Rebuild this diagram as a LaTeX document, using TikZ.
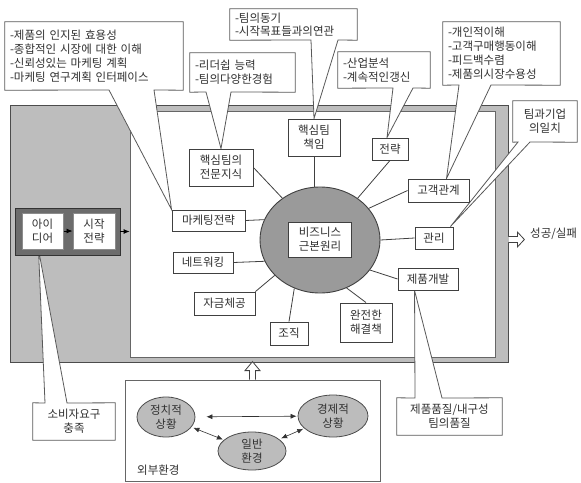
\documentclass[tikz,border=0pt]{standalone}
\usepackage{fontspec}
\setmainfont[WordSpace=1.8]{Noto Sans CJK KR}
\usetikzlibrary{arrows.meta,calc,shapes.geometric}
\definecolor{txt}{HTML}{303030}
\definecolor{edge}{HTML}{404040}
\definecolor{outergray}{HTML}{BDBDBD}
\definecolor{darkbox}{HTML}{6C6C6C}
\definecolor{coregray}{HTML}{9A9A9A}
\definecolor{envgray}{HTML}{BCBCBC}
\pgfdeclarelayer{back}
\pgfdeclarelayer{mid}
\pgfsetlayers{back,mid,main}
\begin{document}
\begin{tikzpicture}[x=1pt,y=-1pt,
  every node/.style={font=\fontsize{11.5}{14}\selectfont, text=txt},
  nbox/.style={draw=edge, line width=0.9pt, fill=white, align=center, inner sep=0pt},
  ibox/.style={draw=black!45, line width=1pt, fill=white, align=center, inner sep=0pt, minimum height=36pt},
  ctext/.style={inner xsep=5pt, inner ysep=0pt, align=left},
  ctextc/.style={inner sep=0pt, align=center},
  cline/.style={draw=black!65, line width=0.8pt, fill=white, line join=miter},
  link/.style={draw=edge, line width=0.8pt},
  envell/.style={ellipse, draw=black!70, line width=0.8pt, fill=envgray, inner sep=0pt, align=center},
  dblarrow/.style={draw=black!80, line width=0.6pt, {Latex[length=6pt,width=5pt]}-{Latex[length=6pt,width=5pt]}},
  hollowshape/.style={draw=black!75, line width=0.8pt, fill=white, line join=miter},
  smallarrow/.style={draw=black, line width=0.8pt, -{Latex[length=6pt,width=5pt]}}
]
\useasboundingbox (0,0) rectangle (581,482);

% frames
\begin{pgfonlayer}{back}
\node[draw=black!70, line width=0.8pt, fill=outergray, inner sep=0pt, minimum width=498pt, minimum height=257pt] (outer) at (259,233.5) {};
\node[draw=black!60, line width=0.8pt, fill=white, inner sep=0pt, minimum width=365pt, minimum height=246pt] (inner) at (312.5,234) {};
\node[draw=black!60, line width=0.8pt, fill=white, inner sep=0pt, minimum width=255pt, minimum height=101pt] (ext) at (252.5,430.5) {};
\end{pgfonlayer}

% start block
\node[draw=black!80, line width=0.8pt, fill=darkbox, inner sep=0pt, minimum width=105pt, minimum height=47pt] (start) at (67.5,231.5) {};
\node[ibox, minimum width=41pt] (idea) at (42.5,231) {아이\\디어};
\node[ibox, minimum width=42pt] (begin) at (94,231) {시작\\전략};
\draw[smallarrow] (idea) -- (begin);
\draw[smallarrow] (start.east) -- (start.east -| inner.west);

% central ellipse
\node[ellipse, draw=edge, line width=0.9pt, fill=coregray, minimum width=120pt, minimum height=106pt, inner sep=0pt] (ell) at (320,240) {};
\node[nbox, minimum width=63pt, minimum height=35pt] (core) at (320,239.5) {비즈니스\\근본원리};

% surrounding nodes
\node[nbox, minimum width=52pt, minimum height=37pt] (resp) at (314,137.5) {핵심팀\\책임};
\node[nbox, minimum width=36pt, minimum height=22pt] (strat) at (390,149) {전략};
\node[nbox, minimum width=61pt, minimum height=23pt] (cust) at (438.5,190.5) {고객관계};
\node[nbox, minimum width=38pt, minimum height=22pt] (mgmt) at (434,238) {관리};
\node[nbox, minimum width=60pt, minimum height=22pt] (dev) at (428,279) {제품개발};
\node[nbox, minimum width=52pt, minimum height=39pt] (sol) at (366,322.5) {완전한\\해결책};
\node[nbox, minimum width=38pt, minimum height=23pt] (org) at (289,333.5) {조직};
\node[nbox, minimum width=61pt, minimum height=23pt] (fund) at (224.5,303.5) {자금체공};
\node[nbox, minimum width=60pt, minimum height=21pt] (net) at (203,262.5) {네트워킹};
\node[nbox, minimum width=73pt, minimum height=21pt] (mkt) at (208.5,220.5) {마케팅전략};
\node[nbox, minimum width=64pt, minimum height=37pt] (exp) at (221,167.5) {핵심팀의\\전문지식};

% connectors
\begin{pgfonlayer}{mid}
\draw[link] (resp.south) -- (resp.south |- ell.north);
\draw[link] (strat.south) -- (ell.48);
\draw[link] (cust.west) -- (ell.33);
\draw[link] (mgmt.west) -- (ell.east);
\draw[link] (dev.west) -- (ell.-31);
\draw[link] (sol.north) -- (ell.-61);
\draw[link] (org.north) -- (ell.-118);
\draw[link] (fund.north east) -- (ell.218);
\draw[link] (net.east) -- (ell.201);
\draw[link] (mkt.east) -- (ell.160);
\draw[link] (exp.east) -- (ell.132);
\end{pgfonlayer}

% outputs
\node[anchor=west, inner sep=0pt] (succ) at (530,234) {성공/실패};
\draw[hollowshape] ([yshift=-3pt]outer.east) -- ++(9,0) -- ++(0,-4.5) -- ++(7,7.5) -- ++(-7,7.5) -- ++(0,-4.5) -- ++(-9,0);
\draw[hollowshape] ([xshift=-3pt]ext.north) -- ++(0,-9) -- ++(-4.5,0) -- ++(7.5,-9) -- ++(7.5,9) -- ++(-4.5,0) -- ++(0,9);

% external environment
\node[envell, minimum width=58pt, minimum height=40pt] (pol) at (166,417) {정치적\\상황};
\node[envell, minimum width=68pt, minimum height=38pt] (gen) at (252,451) {일반\\환경};
\node[envell, minimum width=70pt, minimum height=42pt] (eco) at (333,416) {경제적\\상황};
\node[anchor=west, inner sep=0pt] (envlabel) at (137,470) {외부환경};
\draw[dblarrow, shorten <=11pt, shorten >=1pt] (pol) -- (eco);
\draw[dblarrow, shorten <=2pt, shorten >=1pt] (pol) -- (gen);
\draw[dblarrow, shorten <=2pt, shorten >=1pt] (gen) -- (eco);

% callouts: text nodes
\node[ctext, text width=168pt, minimum height=68pt] (cA) at (94,56) {-제품의 인지된 효용성\\-종합적인 시장에 대한 이해\\-신뢰성있는 마케팅 계획\\-마케팅 연구계획 인터페이스};
\node[ctext, text width=95pt, minimum height=39pt] (cB) at (242.5,72.5) {-리더쉽 능력\\-팀의다양한경험};
\node[ctext, text width=117pt, minimum height=31pt, font=\fontsize{11.5}{12.5}\selectfont] (cC) at (293.5,24.5) {-팀의동기\\-시작목표들과의연관};
\node[ctext, text width=82pt, minimum height=36pt] (cD) at (384,70) {-산업분석\\-계속적인갱신};
\node[ctext, text width=107pt, minimum height=63pt] (cE) at (501.5,53.5) {-개인적이해\\-고객구매행동이해\\-피드백수렴\\-제품의시장수용성};
\node[ctextc, minimum width=64pt, minimum height=41pt] (cF) at (545,121.5) {팀과기업\\의일치};
\node[ctextc, minimum width=105pt, minimum height=37pt] (cG) at (449.5,416.5) {제품품질/내구성\\팀의품질};
\node[ctextc, minimum width=82pt, minimum height=37pt] (cH) at (74,421.5) {소비자요구\\충족};

% callout tails
\coordinate (bA1) at (109,90);  \coordinate (bA2) at (154,90);
\coordinate (bB1) at (206,92);  \coordinate (bB2) at (231,92);
\coordinate (bC1) at (311,40);  \coordinate (bC2) at (338,40);
\coordinate (bD1) at (393,88);  \coordinate (bD2) at (413,88);
\coordinate (bE1) at (459,85);  \coordinate (bE2) at (491,85);
\coordinate (bF1) at (518,142); \coordinate (bF2) at (530,142);
\coordinate (bG1) at (415,398); \coordinate (bG2) at (442,398);
\coordinate (bH1) at (45,403);  \coordinate (bH2) at (67,403);

\begin{pgfonlayer}{mid}
\draw[cline] (cA.south west) -- (bA1) -- (mkt.north west) -- (bA2) -- (cA.south east) -- (cA.north east) -- (cA.north west) -- cycle;
\draw[cline] (cB.south west) -- (bB1) -- (exp.north) -- (bB2) -- (cB.south east) -- (cB.north east) -- (cB.north west) -- cycle;
\draw[cline] (cC.south west) -- (bC1) -- (resp.north) -- (bC2) -- (cC.south east) -- (cC.north east) -- (cC.north west) -- cycle;
\draw[cline] (cD.south west) -- (bD1) -- ($(strat.north)+(-3,0)$) -- (bD2) -- (cD.south east) -- (cD.north east) -- (cD.north west) -- cycle;
\draw[cline] (cE.south west) -- (bE1) -- ($(cust.north)+(8,0)$) -- (bE2) -- (cE.south east) -- (cE.north east) -- (cE.north west) -- cycle;
\draw[cline] (cF.south west) -- (bF1) -- ($(mgmt.north east)+(-3,0)$) -- (bF2) -- (cF.south east) -- (cF.north east) -- (cF.north west) -- cycle;
\draw[cline] (cG.north west) -- (bG1) -- ($(dev.south west)+(17,0)$) -- (bG2) -- (cG.north east) -- (cG.south east) -- (cG.south west) -- cycle;
\draw[cline] (cH.north west) -- (bH1) -- ($(idea.south)+(-4,0)$) -- (bH2) -- (cH.north east) -- (cH.south east) -- (cH.south west) -- cycle;
\end{pgfonlayer}
\end{tikzpicture}
\end{document}
